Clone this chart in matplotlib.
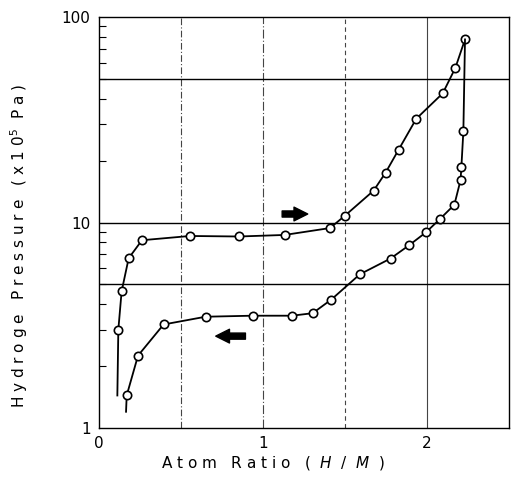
import matplotlib
matplotlib.use("Agg")
import matplotlib.pyplot as plt
from matplotlib.ticker import FixedLocator, NullFormatter

plt.rcParams['font.family'] = ['DejaVu Sans']
plt.rcParams['mathtext.fontset'] = 'dejavusans'

# Absorption branch (first point is the unmarked tail)
abs_x = [0.112, 0.118, 0.138, 0.181, 0.262, 0.555, 0.854, 1.132, 1.409, 1.50,
         1.675, 1.748, 1.827, 1.935, 2.096, 2.173, 2.232]
abs_y = [1.44, 3.01, 4.62, 6.7, 8.2, 8.6, 8.55, 8.7, 9.4, 10.8,
         14.3, 17.5, 22.6, 32.0, 42.5, 56.5, 77.8]

# Desorption branch (last point is the unmarked tail)
des_x = [2.232, 2.222, 2.21, 2.205, 2.167, 2.079, 1.994, 1.892, 1.778, 1.591,
         1.417, 1.303, 1.177, 0.937, 0.65, 0.394, 0.238, 0.169, 0.165]
des_y = [77.8, 27.8, 18.7, 16.1, 12.2, 10.4, 8.96, 7.76, 6.68, 5.6,
         4.22, 3.62, 3.52, 3.52, 3.48, 3.19, 2.25, 1.44, 1.20]

# Arrows: (x_start, x_end, y)
arrow_right = (1.10, 1.29, 11.0)
arrow_left = (0.91, 0.695, 2.8)

xticks = [0, 1, 2]
xticklabels = ['0', '1', '2']
yticks = [1, 10, 100]
yticklabels = ['1', '10', '100']

fig = plt.figure(figsize=(5.11, 4.82), dpi=100)
ax = fig.add_axes([0.1937, 0.112, 0.8023, 0.8527])
ax.set_yscale('log')
ax.set_xlim(0, 2.5)
ax.set_ylim(1, 100)

# grid lines
for gx, ls in [(0.5, (0, (6, 2, 1, 2))), (1.0, (0, (8, 2, 1, 2))), (1.5, (0, (4, 3))), (2.0, '-')]:
    ax.axvline(gx, color='#444444', lw=0.8, ls=ls, zorder=1)
for gy in [5, 10, 50]:
    ax.axhline(gy, color='black', lw=1.0, zorder=1)

mk = dict(marker='o', ms=6, mfc='white', mec='black', mew=1.2)
ax.plot(abs_x, abs_y, color='black', lw=1.3, markevery=list(range(1, len(abs_x))), zorder=3, **mk)
ax.plot(des_x, des_y, color='black', lw=1.3, markevery=list(range(1, len(des_x) - 1)), zorder=3, **mk)

for (x0, x1, yy) in [arrow_right, arrow_left]:
    ax.annotate('', xy=(x1, yy), xytext=(x0, yy),
                arrowprops=dict(arrowstyle='simple,head_width=0.9,head_length=0.9,tail_width=0.4',
                                fc='black', ec='black', mutation_scale=11))

ax.set_xticks(xticks)
ax.set_xticklabels(xticklabels)
ax.yaxis.set_major_locator(FixedLocator(yticks))
ax.set_yticklabels(yticklabels)
minor = [m * 10 ** e for e in range(0, 2) for m in range(2, 10)]
ax.yaxis.set_minor_locator(FixedLocator(minor))
ax.yaxis.set_minor_formatter(NullFormatter())
ax.tick_params(axis='y', which='minor', direction='in', length=5, width=0.8)
ax.tick_params(axis='y', which='major', direction='in', length=0, labelsize=11, pad=6)
ax.tick_params(axis='x', which='major', direction='in', length=0, labelsize=11, pad=6)

for s in ax.spines.values():
    s.set_linewidth(1.0)

fig.text(0.535, 0.04, r'A t o m   R a t i o   (  $\mathit{H}$  /  $\mathit{M}$  )',
         ha='center', va='center', fontsize=11)
fig.text(0.038, 0.49, r'H y d r o g e   P r e s s u r e   ( x 1 0$^{5}$  P a )',
         ha='center', va='center', rotation=90, fontsize=11)

fig.savefig('out.png', dpi=100)
